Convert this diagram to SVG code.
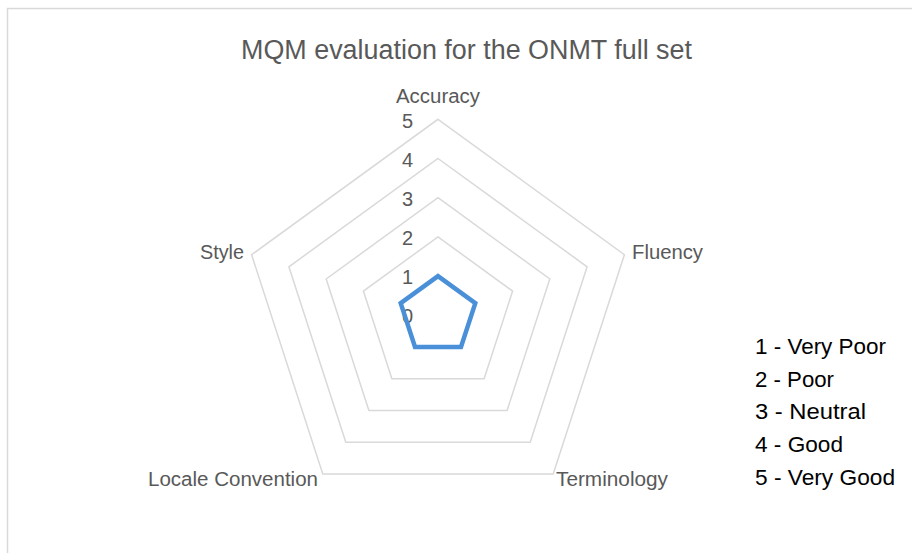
<svg xmlns="http://www.w3.org/2000/svg" width="912" height="553" viewBox="0 0 912 553">
  <style>
    .frame { fill: #ffffff; stroke: #d9d9d9; stroke-width: 1.5; }
    .grid { fill: none; stroke: #d9d9d9; stroke-width: 1.5; stroke-linejoin: miter; }
    .series { fill: none; stroke: #4a90d9; stroke-width: 4.5; stroke-linejoin: miter; }
    .title { font-family: "Liberation Sans", Arial, sans-serif; font-size: 27px; fill: #595959; }
    .axis { font-family: "Liberation Sans", Arial, sans-serif; font-size: 19.5px; fill: #595959; }
    .tick { font-family: "Liberation Sans", Arial, sans-serif; font-size: 20px; fill: #595959; text-anchor: end; }
    .legend { font-family: "Liberation Sans", Arial, sans-serif; font-size: 22.5px; fill: #000000; }
  </style>

  <!-- chart area -->
  <rect class="frame" x="7.5" y="8.5" width="920" height="560"/>

  <text class="title" x="241" y="59" textLength="451" lengthAdjust="spacingAndGlyphs">MQM evaluation for the ONMT full set</text>

  <!-- radar grid rings, levels 1..5, centre (438, 315.3) -->
  <g id="grid">
    <polygon class="grid" points="438,119.3 624.4,254.7 553.2,473.9 322.8,473.9 251.6,254.7"/>
    <polygon class="grid" points="438,158.5 587.1,266.8 530.2,442.2 345.8,442.2 288.9,266.8"/>
    <polygon class="grid" points="438,197.7 549.8,279.0 507.1,410.4 368.9,410.4 326.2,279.0"/>
    <polygon class="grid" points="438,236.9 512.6,291.1 484.1,378.7 391.9,378.7 363.4,291.1"/>
    <polygon class="grid" points="438,276.1 475.3,303.2 461.0,347.0 415.0,347.0 400.7,303.2"/>
  </g>

  <!-- value scale -->
  <g id="scale">
    <text class="tick" x="413" y="127.5">5</text>
    <text class="tick" x="413" y="167">4</text>
    <text class="tick" x="413" y="205.5">3</text>
    <text class="tick" x="413" y="244.5">2</text>
    <text class="tick" x="413" y="284">1</text>
    <text class="tick" x="413" y="323">0</text>
  </g>

  <!-- data series: every category scored 1 -->
  <g id="series">
    <polygon class="series" points="438,276.1 475.3,303.2 461.0,347.0 415.0,347.0 400.7,303.2"/>
  </g>

  <!-- category labels -->
  <g id="accuracy"><text class="axis" x="396" y="102.5" textLength="84" lengthAdjust="spacingAndGlyphs">Accuracy</text></g>
  <g id="fluency"><text class="axis" x="632" y="258.5" textLength="71" lengthAdjust="spacingAndGlyphs">Fluency</text></g>
  <g id="terminology"><text class="axis" x="556" y="485.5" textLength="112" lengthAdjust="spacingAndGlyphs">Terminology</text></g>
  <g id="locale-convention"><text class="axis" x="148" y="485.5" textLength="170" lengthAdjust="spacingAndGlyphs">Locale Convention</text></g>
  <g id="style"><text class="axis" x="200" y="258.5" textLength="44" lengthAdjust="spacingAndGlyphs">Style</text></g>

  <!-- rating key -->
  <g id="legend">
    <text class="legend" x="755" y="354" textLength="131" lengthAdjust="spacingAndGlyphs">1 - Very Poor</text>
    <text class="legend" x="755" y="386.5" textLength="79" lengthAdjust="spacingAndGlyphs">2 - Poor</text>
    <text class="legend" x="755" y="418.5" textLength="111" lengthAdjust="spacingAndGlyphs">3 - Neutral</text>
    <text class="legend" x="755" y="451.5" textLength="88" lengthAdjust="spacingAndGlyphs">4 - Good</text>
    <text class="legend" x="755" y="484.5" textLength="140" lengthAdjust="spacingAndGlyphs">5 - Very Good</text>
  </g>
</svg>
